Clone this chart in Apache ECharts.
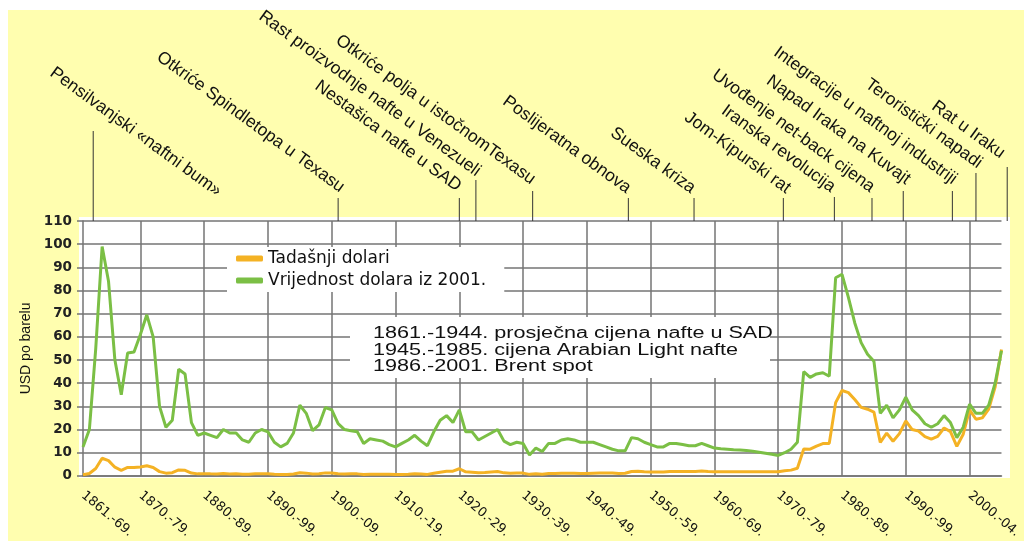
<!DOCTYPE html>
<html><head><meta charset="utf-8">
<script src="https://cdn.jsdelivr.net/npm/echarts@6/dist/echarts.min.js"></script>
<style>
html,body{margin:0;padding:0;background:#fff}
#wrap{position:relative;width:1024px;height:541px;background:#fff;overflow:hidden}
#yellow{position:absolute;left:8px;top:10px;right:0;bottom:0;background:#FFFEAF}
#plotbg{position:absolute;background:#fff}
#c{position:absolute;left:0;top:0;width:1024px;height:541px}
.evt{position:absolute;white-space:nowrap;font-family:'Liberation Sans',Arial,sans-serif;font-size:17.5px;line-height:1.15;color:#111;transform-origin:100% 100%;transform:rotate(36deg)}
</style>
</head><body><div id="wrap"><div id="yellow"></div><div id="plotbg"></div><div id="c"></div></div>
<script>
// ---- data ----
const firstYear = 1861, lastYear = 2005;
const years = [];
for (let y = firstYear; y <= lastYear; y++) years.push(String(y));

const tickYears = [1861,1870,1880,1890,1900,1910,1920,1930,1940,1950,1960,1970,1980,1990,2000];
const tickLabels = ['1861.-69.','1870.-79.','1880.-89.','1890.-99.','1900.-09.','1910.-19.','1920.-29.','1930.-39.','1940.-49.','1950.-59.','1960.-69.','1970.-79.','1980.-89.','1990.-99.','2000.-04.'];

const seriesNames = ['Tadašnji dolari', 'Vrijednost dolara iz 2001.'];

// Tadašnji dolari (money of the day), 1861-2005
const nominal = [
  0.49,1.05,3.15,7.6,6.59,3.74,2.41,3.63,3.64,3.86,
  4.34,3.64,1.83,1.17,1.35,2.56,2.42,1.19,0.86,0.95,
  0.86,0.78,1.00,0.84,0.88,0.71,0.67,0.88,0.94,0.87,
  0.67,0.56,0.64,0.84,1.36,1.18,0.79,0.91,1.29,1.19,
  0.96,0.80,0.94,0.86,0.62,0.73,0.72,0.72,0.70,0.61,
  0.61,0.74,0.95,0.81,0.64,1.10,1.56,1.98,2.01,3.07,
  1.73,1.61,1.34,1.43,1.68,1.88,1.30,1.17,1.27,1.19,
  0.65,0.87,0.67,1.00,0.97,1.09,1.18,1.13,1.02,1.02,
  1.14,1.19,1.20,1.21,1.05,1.12,1.90,1.99,1.78,1.71,
  1.71,1.71,1.93,1.93,1.93,1.93,1.90,2.08,1.90,1.80,
  1.80,1.80,1.80,1.80,1.80,1.80,1.80,1.80,1.80,1.80,
  2.24,2.48,3.29,11.58,11.53,12.80,13.92,14.02,31.61,36.83,
  35.93,32.97,29.55,28.78,27.56,14.43,18.44,14.92,18.23,23.73,
  20.00,19.32,16.97,15.82,17.02,20.67,19.09,12.72,17.97,28.50,
  24.44,25.02,28.83,38.27,54.52
];

// Vrijednost dolara iz 2001. (real value), 1861-2005
const real = [
  12.5,20,55,99,84,50,35,53,53.5,61,
  69.5,60,30,21,24,46,44,23,17.5,18.5,
  17.5,16.5,20,18.5,18.5,15.5,14.5,18.5,20,19,
  14.5,12.5,14,18.5,30.5,27,19.5,22,29.5,28.5,
  22.5,20,19.5,19,14,16,15.5,15,13.5,12.5,
  14,15.5,17.5,15,13,19,24,26,23,28.5,
  19,19,15.5,17,18.5,20,15,13.5,14.5,14,
  9,12,10.5,14,14,15.5,16,15.5,14.5,14.5,
  14.5,13.5,12.5,11.5,10.8,10.8,16.5,16,14.5,13.5,
  12.5,12.5,14,14,13.5,13,13,14,13,12,
  11.7,11.5,11.3,11.2,11,10.6,10.2,9.8,9.3,8.8,
  10,11.5,14.5,45,42.5,44,44.5,43,85.5,87,
  77,66,57.5,52.5,49.5,27,30.5,25,28.5,34,
  28.5,26,22.5,21,22.5,26,23,16.5,21,31,
  27,27,30.5,40,54
];

const noteLines = [
  '1861.-1944. prosječna cijena nafte u SAD',
  '1945.-1985. cijena Arabian Light nafte',
  '1986.-2001. Brent spot'
];

// events (position on the time axis) and labels
const eventYears = [1862.6,1901,1920,1922.6,1931.5,1946.5,1956.8,1970.8,1978.8,1984.7,1989.6,1997.3,2001,2005.9];
const eventLabels = [
  'Pensilvanjski «naftni bum»',
  'Otkriće Spindletopa u Texasu',
  'Nestašica nafte u SAD',
  'Rast proizvodnje nafte u Venezueli',
  'Otkriće polja u istočnomTexasu',
  'Poslijeratna obnova',
  'Sueska kriza',
  'Jom-Kipurski rat',
  'Iranska revolucija',
  'Uvođenje net-back cijena',
  'Napad Iraka na Kuvajt',
  'Integracije u naftnoj industriji',
  'Teroristički napadi',
  'Rat u Iraku'
];

// ---- layout (pixels) ----
const eventLineTop = [131,198,198,180,191,198,198,198,197,198,191,191,173,167];
const eventLabelOffset = [[121,69],[-1,-2],[-5,-3],[-2,0],[-4,-3],[-5,-1],[-6,-1],[0,-1],[-6,-1],[-4,-2],[0,-3],[-3,-3],[-1,-1],[-10,-5]];

const gridColor = '#747474';
const chart = echarts.init(document.getElementById('c'), null, {renderer: 'canvas'});

const option = {
  backgroundColor: 'transparent',
  animation: false,
  grid: {left: 83, right: 20, top: 221, bottom: 65},
  legend: {
    orient: 'vertical', left: 227, top: 247,
    padding: [3, 18, 3, 9], itemGap: 5,
    backgroundColor: '#ffffff',
    itemWidth: 27, itemHeight: 6, icon: 'roundRect',
    textStyle: {fontFamily: 'DejaVu Sans', fontSize: 17, color: '#111'},
    data: seriesNames
  },
  xAxis: {
    type: 'category', data: years, boundaryGap: false,
    axisLine: {show: true, lineStyle: {color: gridColor, width: 1.5}},
    axisTick: {show: false},
    axisLabel: {
      interval: (i, v) => tickYears.indexOf(+v) >= 0,
      formatter: (v) => tickLabels[tickYears.indexOf(+v)] || '',
      rotate: -40, margin: 18,
      fontFamily: 'DejaVu Sans', fontSize: 13, color: '#111'
    },
    splitLine: {show: true, interval: (i, v) => (+v) % 10 === 0, lineStyle: {color: gridColor, width: 1.5}}
  },
  yAxis: {
    type: 'value', min: 0, max: 110, interval: 10,
    name: 'USD po barelu', nameLocation: 'middle', nameGap: 50, nameRotate: 90,
    nameTextStyle: {fontFamily: 'Liberation Sans', fontSize: 14, color: '#111'},
    axisLine: {show: true, lineStyle: {color: gridColor, width: 1.5}},
    axisTick: {show: true, length: 6, lineStyle: {color: gridColor, width: 1.5}},
    axisLabel: {margin: 11, fontFamily: 'DejaVu Sans', fontSize: 13.5, fontWeight: 'bold', color: '#222'},
    splitLine: {show: true, lineStyle: {color: gridColor, width: 1.5}}
  },
  series: [
    {name: seriesNames[0], type: 'line', data: nominal, showSymbol: false, symbol: 'none',
     lineStyle: {color: '#F4B224', width: 3}, itemStyle: {color: '#F4B224'}, z: 3},
    {name: seriesNames[1], type: 'line', data: real, showSymbol: false, symbol: 'none',
     lineStyle: {color: '#7BBF45', width: 3}, itemStyle: {color: '#7BBF45'}, z: 4}
  ]
};
chart.setOption(option);

// ---- annotations positioned through the axes ----
const x0 = chart.convertToPixel({xAxisIndex: 0}, years[0]);
const x1 = chart.convertToPixel({xAxisIndex: 0}, years[years.length - 1]);
const pxPerYear = (x1 - x0) / (lastYear - firstYear);
const yTop = chart.convertToPixel({yAxisIndex: 0}, 110);
const yBottom = chart.convertToPixel({yAxisIndex: 0}, 0);
const xOf = (yr) => x0 + (yr - firstYear) * pxPerYear;

// white plot background (slightly larger than the grid), behind the transparent canvas
const pb = document.getElementById('plotbg');
pb.style.left = (x0 - 4) + 'px';
pb.style.top = (yTop - 4) + 'px';
pb.style.width = (x1 - x0 + 13) + 'px';
pb.style.height = (yBottom - yTop + 6) + 'px';

const graphics = [
  {type: 'rect', silent: true, shape: {x: 350, y: 317, width: 420, height: 61}, style: {fill: '#ffffff'}},
  {type: 'group', x: 373, y: 350.5, scaleX: 1.35, children: [
    {type: 'text', style: {text: noteLines.join('\n'), fontFamily: 'Liberation Sans', fontSize: 16, lineHeight: 16.5,
      fill: '#111', align: 'left', verticalAlign: 'middle'}}
  ]}
];
const wrap = document.getElementById('wrap');
eventYears.forEach((yr, i) => {
  const x = xOf(yr);
  graphics.push({type: 'line', silent: true, shape: {x1: x, y1: eventLineTop[i], x2: x, y2: yTop},
    style: {stroke: '#333', lineWidth: 1}});
  const ax = x + eventLabelOffset[i][0];
  const ay = eventLineTop[i] + eventLabelOffset[i][1];
  const d = document.createElement('div');
  d.className = 'evt';
  d.textContent = eventLabels[i];
  d.style.right = (1024 - ax) + 'px';
  d.style.bottom = (541 - ay) + 'px';
  wrap.appendChild(d);
});
chart.setOption({graphic: graphics});
</script></body></html>
